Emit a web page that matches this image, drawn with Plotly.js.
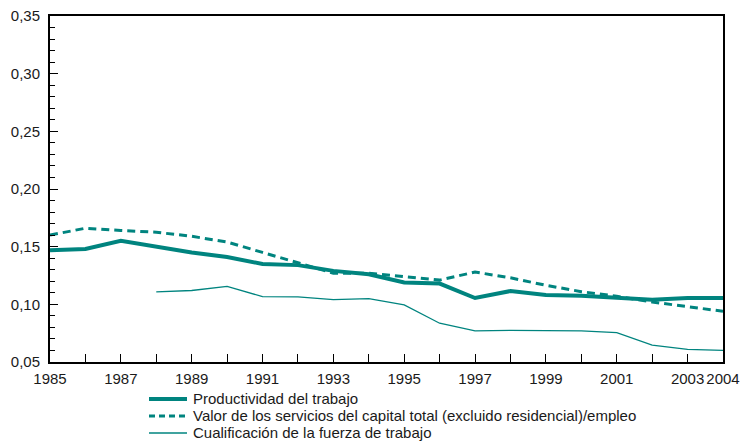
<!DOCTYPE html>
<html>
<head>
<meta charset="utf-8">
<script src="https://cdn.plot.ly/plotly-3.0.1.min.js"></script>
<style>html,body{margin:0;padding:0;background:#fff;}#chart{width:741px;height:441px;}</style>
</head>
<body>
<div id="chart"></div>
<script>
var years = [1985,1986,1987,1988,1989,1990,1991,1992,1993,1994,1995,1996,1997,1998,1999,2000,2001,2002,2003,2004];
var productividad = [0.147,0.148,0.155,0.150,0.145,0.141,0.135,0.134,0.129,0.126,0.119,0.118,0.1055,0.1115,0.108,0.1075,0.106,0.104,0.1055,0.1055];
var capital = [0.160,0.166,0.164,0.1625,0.159,0.154,0.145,0.136,0.127,0.127,0.124,0.121,0.128,0.123,0.1165,0.111,0.107,0.102,0.098,0.094];
var cualYears = [1988,1989,1990,1991,1992,1993,1994,1995,1996,1997,1998,1999,2000,2001,2002,2003,2004];
var cualificacion = [0.1108,0.112,0.1155,0.1067,0.1065,0.104,0.105,0.0995,0.0836,0.077,0.0775,0.077,0.077,0.0755,0.0646,0.061,0.060];
var xTickVals = years;
var xTickText = ['1985','','1987','','1989','','1991','','1993','','1995','','1997','','1999','','2001','','2003','2004'];
var names = ['Productividad del trabajo','Valor de los servicios del capital total (excluido residencial)/empleo','Cualificación de la fuerza de trabajo'];
var teal = '#00847f';
var lineWidths = [4, 3, 1.3];
var lineDashes = ['solid', '8px,5px', 'solid'];

var traces = [
  {x: years, y: productividad, type:'scatter', mode:'lines', name:names[0], line:{color:teal, width:lineWidths[0]}},
  {x: years, y: capital, type:'scatter', mode:'lines', name:names[1], line:{color:teal, width:lineWidths[1], dash:lineDashes[1]}},
  {x: cualYears, y: cualificacion, type:'scatter', mode:'lines', name:names[2], line:{color:teal, width:lineWidths[2]}}
];

// Legend drawn below the plot (plot area: x 50..723, y 16..362)
var plotL = 50, plotW = 673, plotB = 362, plotH = 346;
function px2x(p){ return (p - plotL) / plotW; }
function px2y(p){ return (plotB - p) / plotH; }
var legendRows = [398, 415, 432];
var shapes = [], annotations = [];
for (var i = 0; i < names.length; i++) {
  shapes.push({type:'line', xref:'paper', yref:'paper', x0:px2x(149), x1:px2x(187), y0:px2y(legendRows[i]+1), y1:px2y(legendRows[i]+1),
    line:{color:teal, width:lineWidths[i], dash:(i===1?'6px,4px':'solid')}});
  annotations.push({xref:'paper', yref:'paper', x:px2x(191), y:px2y(legendRows[i]), xanchor:'left', yanchor:'middle',
    text:names[i], showarrow:false, font:{size:15, color:'#1a1a1a'}});
}

var layout = {
  width: 741, height: 441,
  margin: {l:50, r:18, t:16, b:79, autoexpand:false},
  paper_bgcolor:'#fff', plot_bgcolor:'#fff',
  separators: ',.',
  font: {family:'Liberation Sans', size:15, color:'#1a1a1a'},
  showlegend: false,
  shapes: shapes,
  annotations: annotations,
  xaxis: {
    range:[1985,2004], showgrid:false, zeroline:false,
    showline:true, linecolor:'#000', linewidth:2, mirror:true,
    ticks:'inside', ticklen:8, tickcolor:'#000', tickwidth:1,
    tickvals: xTickVals, ticktext: xTickText, ticklabelstandoff: 2
  },
  yaxis: {
    range:[0.05,0.35], showgrid:false, zeroline:false,
    showline:true, linecolor:'#000', linewidth:2, mirror:true,
    ticks:'inside', ticklen:8, tickcolor:'#000', tickwidth:1,
    dtick:0.05, tickformat:'.2f', ticklabelstandoff: 5,
    minor:{dtick:0.01, ticks:'inside', ticklen:5, tickcolor:'#000', tickwidth:1, showgrid:false}
  }
};
Plotly.newPlot('chart', traces, layout, {displayModeBar:false, staticPlot:true});
</script>
</body>
</html>
